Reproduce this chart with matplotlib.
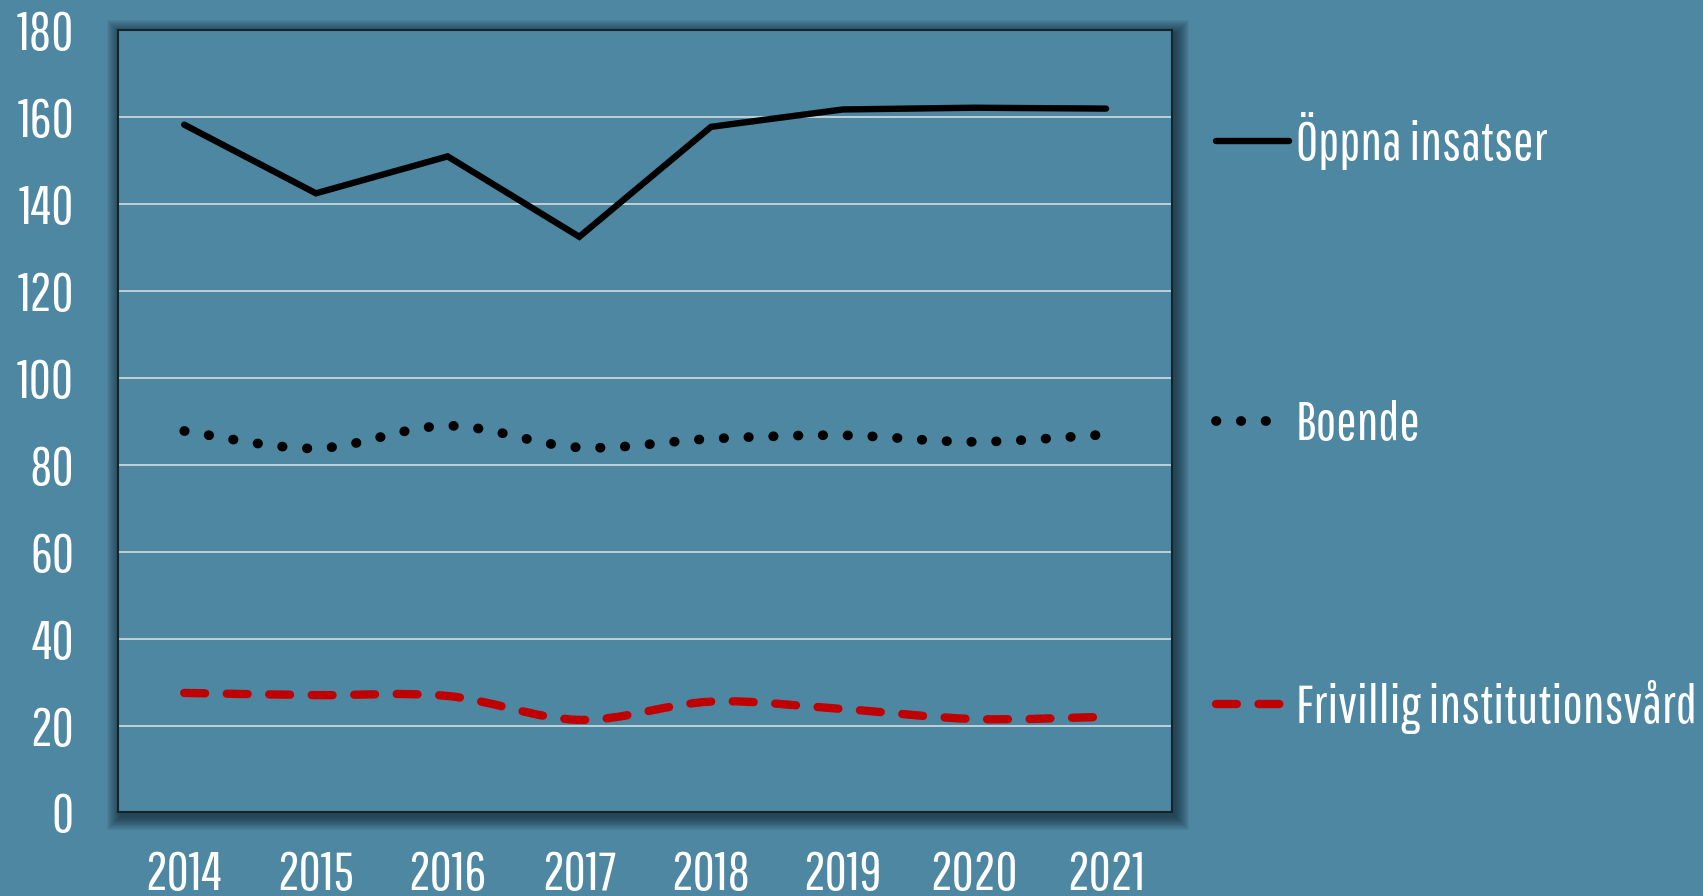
import matplotlib
matplotlib.use("Agg")
import matplotlib.pyplot as plt
from matplotlib.lines import Line2D
from matplotlib.path import Path
from matplotlib.patches import PathPatch, Rectangle
import numpy as np

plt.rcParams['font.family'] = ['Pathway Gothic One', 'Roboto Condensed', 'Open Sans Condensed', 'DejaVu Sans']

years = ['2014', '2015', '2016', '2017', '2018', '2019', '2020', '2021']
oppna = [158.3, 142.5, 151.0, 132.5, 157.8, 161.8, 162.2, 162.0]
boende = [87.8, 83.8, 89.0, 84.0, 86.0, 86.8, 85.3, 87.0]
frivillig = [27.5, 27.0, 26.8, 21.3, 25.5, 23.8, 21.5, 22.0]
labels = ['Öppna insatser', 'Boende', 'Frivillig institutionsvård']
yticks = [0, 20, 40, 60, 80, 100, 120, 140, 160, 180]

BG = '#4e87a1'
W, H = 1703, 896
fig = plt.figure(figsize=(W / 100, H / 100), dpi=100, facecolor=BG)
pos = [118.4 / W, 1 - 812.4 / H, (1171.9 - 118.4) / W, (812.4 - 30.4) / H]
ax = fig.add_axes(pos, facecolor=BG)

# drop shadow around the plot area
for i in range(14, 0, -1):
    e = i * 1.0
    rect = Rectangle(((118.4 - e + 3) / W, (1 - 812.4 / H) - (e + 4) / H),
                     (1171.9 - 118.4 + 2 * e) / W, (812.4 - 30.4 + 2 * e) / H,
                     transform=fig.transFigure, facecolor='#0b1d27', edgecolor='none',
                     alpha=0.06, zorder=-5)
    fig.patches.append(rect)

x = np.arange(len(years))


def smooth_path(xs, ys):
    xs = np.asarray(xs, float)
    ys = np.asarray(ys, float)
    pts = np.column_stack([xs, ys])
    verts = [pts[0]]
    codes = [Path.MOVETO]
    n = len(pts)
    for i in range(n - 1):
        p0 = pts[i - 1] if i > 0 else pts[i]
        p1 = pts[i]
        p2 = pts[i + 1]
        p3 = pts[i + 2] if i + 2 < n else pts[i + 1]
        c1 = p1 + (p2 - p0) / 6.0
        c2 = p2 - (p3 - p1) / 6.0
        verts += [c1, c2, p2]
        codes += [Path.CURVE4] * 3
    return Path(verts, codes)


DOT = (0, (0.05, 2.5))
DASH = (0, (2.5, 2.6))

ax.plot(x, oppna, color='black', lw=4.6, solid_capstyle='round', solid_joinstyle='miter', zorder=3)

pb = PathPatch(smooth_path(x, boende), fill=False, edgecolor='black', lw=7,
               linestyle=DOT, capstyle='round', zorder=3)
ax.add_patch(pb)
pf = PathPatch(smooth_path(x, frivillig), fill=False, edgecolor='#c00000', lw=6,
               linestyle=DASH, capstyle='round', zorder=3)
ax.add_patch(pf)

FS = 39
ax.set_xlim(-0.5, len(years) - 0.5)
ax.set_ylim(0, 180)
ax.set_yticks(yticks)
ax.set_xticks(x)
ax.set_xticklabels(years)
ax.yaxis.grid(True, color='#d5dde1', lw=1.2)
ax.set_axisbelow(True)
ax.tick_params(axis='both', length=0, labelsize=FS, labelcolor='white')
ax.tick_params(axis='y', pad=32)
ax.tick_params(axis='x', pad=27)
for s in ax.spines.values():
    s.set_color('#15232b')
    s.set_linewidth(1.5)

handles = [
    Line2D([], [], color='black', lw=4.6, solid_capstyle='round'),
    Line2D([], [], color='black', lw=7, linestyle=DOT, dash_capstyle='round'),
    Line2D([], [], color='#c00000', lw=6, linestyle=DASH, dash_capstyle='round'),
]
fig.legend(handles, labels, loc='upper left', bbox_to_anchor=(1216 / W, 1 - 112 / H),
           frameon=False, fontsize=FS, labelcolor='white', handlelength=1.35,
           handletextpad=0.12, labelspacing=4.25, borderpad=0, borderaxespad=0)

fig.savefig('out.png', dpi=100, facecolor=BG)
